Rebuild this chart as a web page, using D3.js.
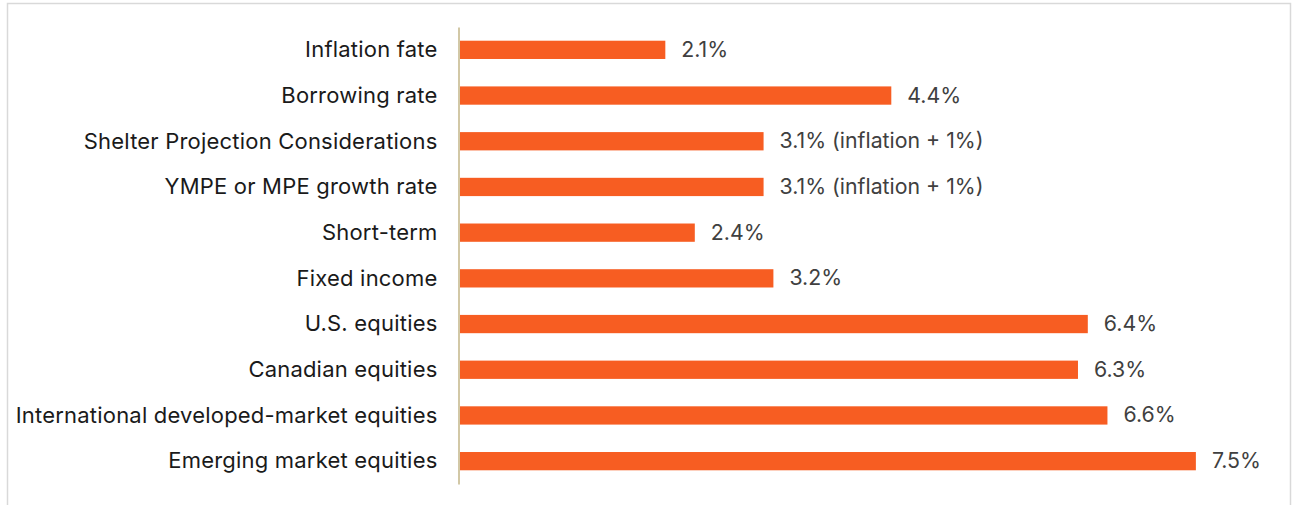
<!DOCTYPE html>
<html>
<head>
<meta charset="utf-8">
<script src="https://cdn.jsdelivr.net/npm/d3@7"></script>
<style>
  body { margin: 0; background: #fff; }
  svg { display: block; font-family: "Inter", sans-serif; }
</style>
</head>
<body>
<div id="chart"></div>
<script>
const categories = [
  'Inflation fate',
  'Borrowing rate',
  'Shelter Projection Considerations',
  'YMPE or MPE growth rate',
  'Short-term',
  'Fixed income',
  'U.S. equities',
  'Canadian equities',
  'International developed-market equities',
  'Emerging market equities'
]
const values = [2.1, 4.4, 3.1, 3.1, 2.4, 3.2, 6.4, 6.3, 6.6, 7.5]
const valueLabels = ['2.1%', '4.4%', '3.1% (inflation + 1%)', '3.1% (inflation + 1%)', '2.4%', '3.2%', '6.4%', '6.3%', '6.6%', '7.5%']

const width = 1296
const height = 505
const margin = {top: 27, right: 51, bottom: 21, left: 459}

const svg = d3.select('#chart').append('svg')
    .attr('width', width)
    .attr('height', height)

// 外框
svg.append('rect')
    .attr('x', 7.5).attr('y', 3.5)
    .attr('width', 1283).attr('height', 520)
    .attr('fill', 'none')
    .attr('stroke', '#d9d9d9')
    .attr('stroke-width', 1.5)

const x = d3.scaleLinear()
    .domain([0, 8])
    .range([margin.left, width - margin.right])

const y = d3.scaleBand()
    .domain(categories)
    .range([margin.top, height - margin.bottom])
    .paddingInner(0.6)
    .paddingOuter(0.3)

svg.selectAll('rect.bar')
    .data(values)
    .join('rect')
    .attr('class', 'bar')
    .attr('x', x(0))
    .attr('y', (d, i) => y(categories[i]))
    .attr('width', d => x(d) - x(0))
    .attr('height', y.bandwidth())
    .attr('fill', '#f75d22')

svg.selectAll('text.val')
    .data(values)
    .join('text')
    .attr('class', 'val')
    .attr('x', d => x(d) + 16)
    .attr('y', (d, i) => y(categories[i]) + y.bandwidth() / 2)
    .attr('dy', '0.33em')
    .attr('font-size', 21.3)
    .attr('fill', '#404040')
    .text((d, i) => valueLabels[i])

// 类别轴
const yAxis = svg.append('g')
    .attr('transform', `translate(${x(0) - 0.5},0)`)
    .call(d3.axisLeft(y).tickSize(0).tickPadding(21))
yAxis.select('.domain').attr('stroke', '#d2c8a6').attr('stroke-width', 2)
yAxis.selectAll('text')
    .attr('font-size', 22)
    .attr('dy', '0.33em')
    .attr('letter-spacing', 0.2)
    .attr('font-family', 'Inter, sans-serif')
    .attr('fill', '#1a1a1a')
</script>
</body>
</html>
